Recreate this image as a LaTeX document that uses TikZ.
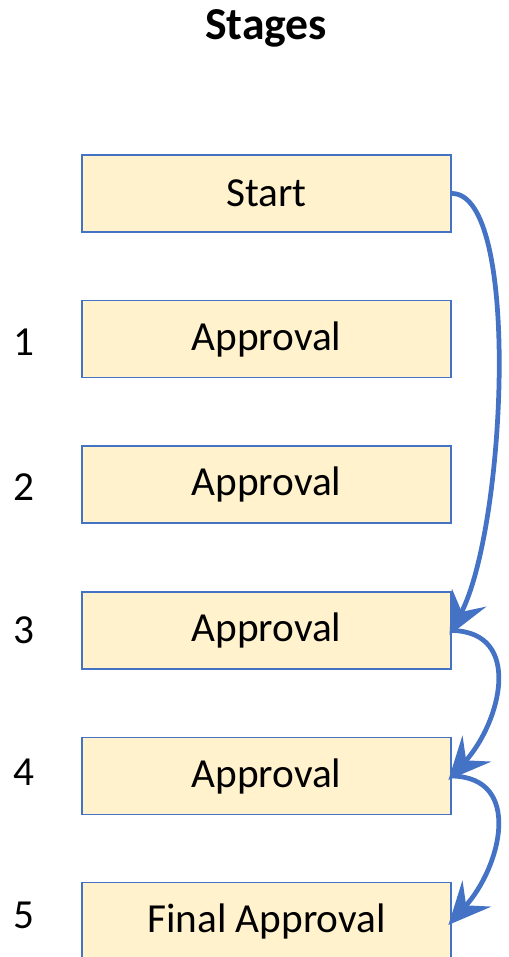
\documentclass[tikz,border=0pt]{standalone}
\usepackage{fontspec}
\setmainfont{Carlito}
\usetikzlibrary{arrows.meta}
\definecolor{boxfill}{HTML}{FFF2CC}
\definecolor{boxline}{HTML}{4472C4}
\tikzstyle{block} = [rectangle, draw=boxline, fill=boxfill, line width=1.1pt,
                 minimum width=7.38cm, minimum height=1.54cm,
                 font=\fontsize{23.5}{28}\selectfont]
\tikzstyle{branch} = [draw=boxline, line width=2.7pt,
                 -{Stealth[length=24pt, width=22pt, inset=9pt]}]
\tikzset{
	stagenum/.style={font=\fontsize{23.5}{28}\selectfont},
}
\begin{document}
\begin{tikzpicture}

\useasboundingbox (0,0) rectangle (10.16,19.14);

\node [font=\fontsize{26}{31}\bfseries] at (5.32,18.58) (title) {Stages};

\node [block] at (5.33,15.27) (start) {Start};
\node [block] at (5.33,12.36) (s1) {Approval};
\node [block] at (5.33,9.45) (s2) {Approval};
\node [block] at (5.33,6.53) (s3) {Approval};
\node [block] at (5.33,3.62) (s4) {Approval};
\node [block] at (5.33,0.72) (s5) {Final Approval};

% stage numbers
\foreach \n/\y in {1/12.30, 2/9.40, 3/6.54, 4/3.70, 5/0.84}
	\node [stagenum] at (0.48,\y) (n\n) {\n};

\path [branch, shorten >=-3pt] (start.east) .. controls +(1.38,0) and +(1.08,2.07) .. (s3.east);
\path [branch, shorten >=-3pt] (s3.east) .. controls +(1.43,-0.03) and +(0.98,1.08) .. (s4.east);
\path [branch, shorten >=-3pt] (s4.east) .. controls +(1.43,-0.03) and +(0.98,1.08) .. (s5.east);

\end{tikzpicture}
\end{document}
